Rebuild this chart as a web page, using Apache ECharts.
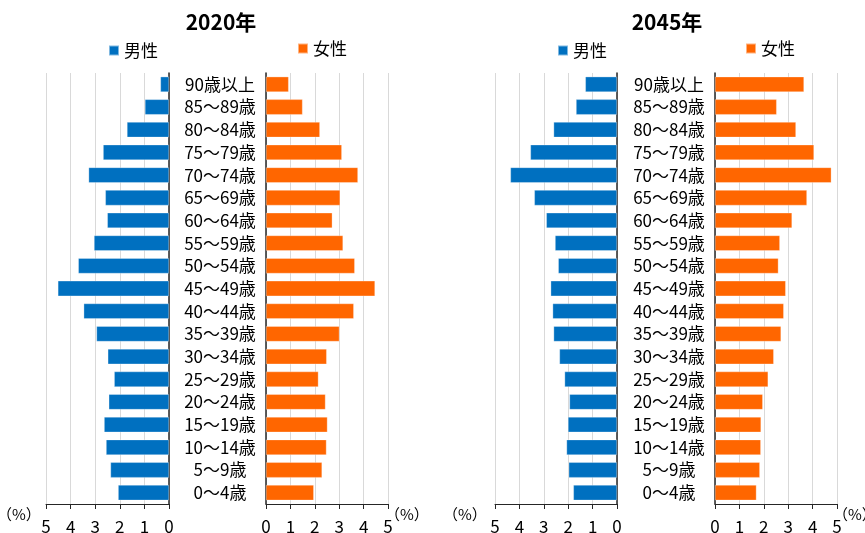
<!DOCTYPE html>
<html><head><meta charset="utf-8">
<script src="https://cdn.jsdelivr.net/npm/echarts@6/dist/echarts.min.js"></script>
<style>html,body{margin:0;padding:0;background:#fff}#c{width:865px;height:533px}</style>
</head><body><div id="c"></div>
<script>
const categories = ['90歳以上','85～89歳','80～84歳','75～79歳','70～74歳','65～69歳','60～64歳','55～59歳','50～54歳','45～49歳','40～44歳','35～39歳','30～34歳','25～29歳','20～24歳','15～19歳','10～14歳','5～9歳','0～4歳'];
const male2020 = [0.35,0.98,1.71,2.68,3.27,2.59,2.51,3.05,3.69,4.52,3.47,2.95,2.49,2.23,2.45,2.64,2.56,2.38,2.07];
const female2020 = [0.93,1.50,2.21,3.11,3.77,3.04,2.72,3.16,3.64,4.47,3.60,3.01,2.49,2.15,2.44,2.52,2.48,2.30,1.96];
const male2045 = [1.30,1.68,2.60,3.55,4.37,3.39,2.90,2.54,2.41,2.72,2.64,2.60,2.36,2.15,1.95,2.01,2.07,1.98,1.79];
const female2045 = [3.65,2.53,3.32,4.06,4.77,3.77,3.16,2.66,2.60,2.90,2.82,2.71,2.41,2.18,1.96,1.89,1.88,1.84,1.70];
const xTicks = [0,1,2,3,4,5];
const titles = ['2020年','2045年'];
const seriesNames = ['男性','女性'];

const FONT = "'Noto Sans CJK JP', sans-serif";
const MALE = '#0070C0', FEMALE = '#FF6600';
const AX = '#262626';

const grids = [
  {left:46, width:123, top:73, height:431, outerBoundsMode:'none', containLabel:false},
  {left:266, width:122, top:73, height:431, outerBoundsMode:'none', containLabel:false},
  {left:495, width:122, top:73, height:431, outerBoundsMode:'none', containLabel:false},
  {left:715, width:122, top:73, height:431, outerBoundsMode:'none', containLabel:false}
];
function xAx(i, inverse){
  return {gridIndex:i, type:'value', min:xTicks[0], max:xTicks[xTicks.length-1], interval:1, inverse:inverse,
    axisLine:{show:true, lineStyle:{color:AX, width:1}},
    axisTick:{show:true, length:5, lineStyle:{color:AX}},
    axisLabel:{fontFamily:FONT, fontSize:17, color:'#000', margin:14},
    splitLine:{show:true, lineStyle:{color:'#d9d9d9', width:1}}};
}
function yAx(i, pos, showLabel, margin){
  return {gridIndex:i, type:'category', data:categories, inverse:true, position:pos,
    axisLine:{show:true, onZero:false, lineStyle:{color:AX, width:1.5}},
    axisTick:{show:false},
    axisLabel:{show:showLabel, fontFamily:FONT, fontSize:17, color:'#000', align:'center', margin:margin, interval:0}};
}
function bar(i, name, data, color){
  return {type:'bar', name:name, xAxisIndex:i, yAxisIndex:i, data:data, barCategoryGap:'32%',
    itemStyle:{color:color, borderColor:'rgba(255,255,255,0.5)', borderWidth:0.6}, silent:true};
}
function lg(left, top, name){
  return {left:left, top:top, padding:0, itemWidth:10, itemHeight:10, icon:'rect', data:[name], selectedMode:false,
    textStyle:{fontFamily:FONT, fontSize:17, color:'#000'}, itemGap:0};
}
const option = {
  animation:false,
  title:[
    {text:titles[0], left:216, top:7, textAlign:'center', textStyle:{fontFamily:FONT, fontSize:21, fontWeight:'bold', color:'#000'}},
    {text:titles[1], left:662, top:7, textAlign:'center', textStyle:{fontFamily:FONT, fontSize:21, fontWeight:'bold', color:'#000'}}
  ],
  legend:[lg(108,42,seriesNames[0]), lg(297,40,seriesNames[1]), lg(557,42,seriesNames[0]), lg(745,40,seriesNames[1])],
  grid:grids,
  xAxis:[xAx(0,true), xAx(1,false), xAx(2,true), xAx(3,false)],
  yAxis:[yAx(0,'right',false,0), yAx(1,'left',true,46), yAx(2,'right',false,0), yAx(3,'left',true,46)],
  series:[bar(0,seriesNames[0],male2020,MALE), bar(1,seriesNames[1],female2020,FEMALE), bar(2,seriesNames[0],male2045,MALE), bar(3,seriesNames[1],female2045,FEMALE)],
  graphic:[
    {type:'text', left:-3, top:507, style:{text:'（%）', font:"15px "+FONT, fill:'#000'}},
    {type:'text', left:385, top:507, style:{text:'（%）', font:"15px "+FONT, fill:'#000'}},
    {type:'text', left:443, top:507, style:{text:'（%）', font:"15px "+FONT, fill:'#000'}},
    {type:'text', left:833, top:507, style:{text:'（%）', font:"15px "+FONT, fill:'#000'}}
  ]
};
echarts.init(document.getElementById('c'), null, {renderer:'canvas'}).setOption(option);
</script></body></html>
